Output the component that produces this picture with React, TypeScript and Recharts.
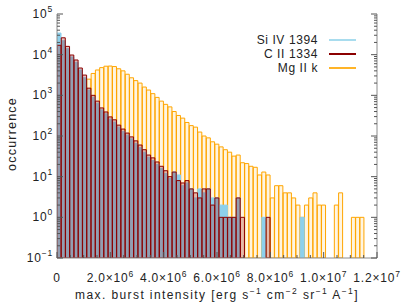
import { ComposedChart, Bar, XAxis, YAxis, Legend, Label } from 'recharts';

// histogram bin width in erg s-1 cm-2 sr-1 A-1
const BIN_WIDTH = 1.6e5;

// occurrences per bin (null = empty bin)
const SI_IV_1394 = [
  34000, 22000, 14000, 8800, 6500, 4200, 2700, 1350, 900, 640,
  440, 350, 260, 220, 165, 130, 105, 85, 66, 52,
  40, 30, 25, 20, 16, 12, 9, 13, 11, 6,
  7, 5, 3, 5, 4, 5, 3, 3, 2, 2,
  1, 1, 3, null, null, null, null, null, 1, null,
  null, null, null, null, null, null, null, 1, null, null,
  null, null, null, null, null, null, null, null, null, null,
  null, null, null, null, null,
];
const C_II_1334 = [
  17000, 26000, 16000, 9800, 7400, 4700, 3150, 1500, 1000, 720,
  490, 390, 295, 250, 185, 148, 118, 95, 76, 60,
  46, 34, 29, 23, 18, 14, 10, 13, 8, 7,
  8, 5, 4, 3, 5, 5, 2, 3, 1, 1,
  1, 1, 3, 1, null, null, null, null, null, 1,
  null, null, null, null, null, null, null, null, null, null,
  null, null, null, null, null, null, null, null, null, null,
  null, null, null, null, null,
];
const MG_II_K = [
  30, 300, 600, 900, 1100, 1400, 1600, 2500, 3450, 4200,
  4800, 5200, 5250, 5100, 4500, 4000, 3300, 2700, 2300, 2000,
  1600, 1350, 1100, 890, 720, 600, 520, 400, 320, 275,
  215, 180, 165, 125, 100, 90, 72, 63, 54, 46,
  40, 32, 34, 22, 21, 18, 17, 11, 13, 11,
  3, 6, 6, 4, 4, 3, 2, 1, 2, 3,
  4, 2, 2, null, null, 2, 4, null, null, 1,
  1, 1, null, null, null,
];

const X_MAJOR = [0, 2e6, 4e6, 6e6, 8e6, 1e7, 1.2e7];
const X_LABELS = [['0', ''], ['2.0×10', '6'], ['4.0×10', '6'], ['6.0×10', '6'], ['8.0×10', '6'], ['1.0×10', '7'], ['1.2×10', '7']];
const X_MINOR_STEP = 5e5;
const Y_MAJOR = [0.1, 1, 10, 100, 1000, 1e4, 1e5];
const Y_EXPONENTS = ['−1', '0', '1', '2', '3', '4', '5'];

const FONT = '"Liberation Sans", Arial, sans-serif';
const AXIS_COLOR = '#8c8c8c';
const TICK_COLOR = '#555';
const TEXT_COLOR = '#222';

const SERIES = [
  { key: 'mg', name: 'Mg II k', xAxis: 'm', yAxis: 'l', fill: 'rgba(255,190,70,0.16)', stroke: '#ffa500', legend: '#ffb428' },
  { key: 'si', name: 'Si IV 1394', xAxis: 'b', yAxis: 'l', fill: '#8dd0ec', stroke: '#8dd0ec', legend: '#a8dcee' },
  { key: 'c', name: 'C II 1334', xAxis: 't', yAxis: 'r', fill: 'rgba(160,30,30,0.28)', stroke: '#8b0000', legend: '#8b0000' },
];
const LEGEND_ORDER = ['si', 'c', 'mg'];

const data = SI_IV_1394.map((si, i) => ({ x: (i + 0.5) * BIN_WIDTH, si, c: C_II_1334[i], mg: MG_II_K[i] }));

const X_TICKS = Array.from({ length: Math.round(X_MAJOR[X_MAJOR.length - 1] / X_MINOR_STEP) + 1 }, (_, i) => i * X_MINOR_STEP);
const Y_TICKS = Y_MAJOR.flatMap((d, i) => (i === Y_MAJOR.length - 1 ? [d] : [1, 2, 3, 4, 5, 6, 7, 8, 9].map(m => m * d)));

const textStyle = { fontFamily: FONT, fill: TEXT_COLOR, letterSpacing: 0.8 };

const makeXTick = (side: 'bottom' | 'top') => (props: any) => {
  const { x, y, payload } = props;
  const idx = X_MAJOR.findIndex(m => Math.abs(m - payload.value) < 1);
  const len = idx >= 0 ? 6 : 3;
  const dir = side === 'bottom' ? -1 : 1;
  return (
    <g>
      <line x1={x} y1={y} x2={x} y2={y + dir * len} stroke={TICK_COLOR} strokeWidth={1} />
      {side === 'bottom' && idx >= 0 && (
        <text x={x} y={y + 24} textAnchor="middle" fontSize={12} style={textStyle}>
          {X_LABELS[idx][0]}
          {X_LABELS[idx][1] && <tspan dy={-5} fontSize={8.5}>{X_LABELS[idx][1]}</tspan>}
        </text>
      )}
    </g>
  );
};

const makeYTick = (side: 'left' | 'right') => (props: any) => {
  const { x, y, payload } = props;
  const idx = Y_MAJOR.findIndex(m => Math.abs(payload.value / m - 1) < 1e-6);
  const len = idx >= 0 ? 6 : 3;
  const dir = side === 'left' ? 1 : -1;
  return (
    <g>
      <line x1={x} y1={y} x2={x + dir * len} y2={y} stroke={TICK_COLOR} strokeWidth={1} />
      {side === 'left' && idx >= 0 && (
        <text x={x - 4} y={y + 4} textAnchor="end" fontSize={12} style={textStyle}>
          10<tspan dy={-6} fontSize={8.5}>{Y_EXPONENTS[idx]}</tspan>
        </text>
      )}
    </g>
  );
};

const YTitle = (props: any) => {
  const { viewBox } = props;
  const cx = viewBox.x + 16;
  const cy = viewBox.y + viewBox.height / 2 - 2;
  return (
    <text x={cx} y={cy} transform={`rotate(-90, ${cx}, ${cy})`} textAnchor="middle" fontSize={12.5}
      style={{ ...textStyle, letterSpacing: 1.2 }}>
      occurrence
    </text>
  );
};

const XTitle = (props: any) => {
  const { viewBox } = props;
  const cx = viewBox.x + viewBox.width / 2;
  const by = viewBox.y + 41;
  const sup = (s: string) => <tspan dy={-5} fontSize={8.5}>{s}</tspan>;
  const back = (s: string) => <tspan dy={5}>{s}</tspan>;
  return (
    <text x={cx} y={by} textAnchor="middle" fontSize={12} style={{ ...textStyle, letterSpacing: 1.4 }}>
      max. burst intensity [erg s{sup('−1')}{back(' cm')}{sup('−2')}{back(' sr')}{sup('−1')}{back(' A')}{sup('−1')}{back(']')}
    </text>
  );
};

const LegendBox = () => (
  <div style={{ display: 'flex', flexDirection: 'column', alignItems: 'flex-end', fontFamily: FONT, fontSize: 12, color: TEXT_COLOR, letterSpacing: 0.6 }}>
    {LEGEND_ORDER.map(k => {
      const s = SERIES.find(v => v.key === k)!;
      return (
        <div key={k} style={{ display: 'flex', alignItems: 'center', height: 14 }}>
          <span>{s.name}</span>
          <div style={{ width: 27, height: 1.5, background: s.legend, marginLeft: 11 }} />
        </div>
      );
    })}
  </div>
);

export default function App() {
  return (
    <div style={{ position: 'absolute', left: 0, top: 0, width: 407, height: 305, background: '#fff' }}>
      <ComposedChart width={407} height={305} data={data} margin={{ top: 14, right: 0, bottom: 0, left: 0 }} barCategoryGap={0} barGap={0}>
        <XAxis xAxisId="b" type="number" dataKey="x" domain={[0, 1.2e7]} allowDataOverflow ticks={X_TICKS} interval={0}
          height={47} tickSize={0} tickMargin={0} tickLine={false} axisLine={{ stroke: AXIS_COLOR }} tick={makeXTick('bottom')}>
          <Label content={XTitle} />
        </XAxis>
        <XAxis xAxisId="t" orientation="top" type="number" dataKey="x" domain={[0, 1.2e7]} allowDataOverflow ticks={X_TICKS} interval={0}
          height={0} tickSize={0} tickMargin={0} tickLine={false} axisLine={{ stroke: AXIS_COLOR }} tick={makeXTick('top')} />
        <XAxis xAxisId="m" type="number" dataKey="x" domain={[0, 1.2e7]} allowDataOverflow hide />
        <YAxis yAxisId="l" type="number" scale="log" domain={[0.1, 1e5]} allowDataOverflow ticks={Y_TICKS} interval={0}
          width={57} tickSize={0} tickMargin={0} tickLine={false} axisLine={{ stroke: AXIS_COLOR }} tick={makeYTick('left')}>
          <Label content={YTitle} />
        </YAxis>
        <YAxis yAxisId="r" orientation="right" type="number" scale="log" domain={[0.1, 1e5]} allowDataOverflow ticks={Y_TICKS} interval={0}
          width={30} tickSize={0} tickMargin={0} tickLine={false} axisLine={{ stroke: AXIS_COLOR }} tick={makeYTick('right')} />
        <Legend layout="horizontal" verticalAlign="middle" align="center" content={LegendBox}
          wrapperStyle={{ top: 33, left: 150, width: 206, height: 44 }} />
        {SERIES.map(s => (
          <Bar key={s.key} dataKey={s.key} name={s.name} xAxisId={s.xAxis} yAxisId={s.yAxis}
            fill={s.fill} stroke={s.stroke} strokeWidth={1} isAnimationActive={false} />
        ))}
      </ComposedChart>
    </div>
  );
}
